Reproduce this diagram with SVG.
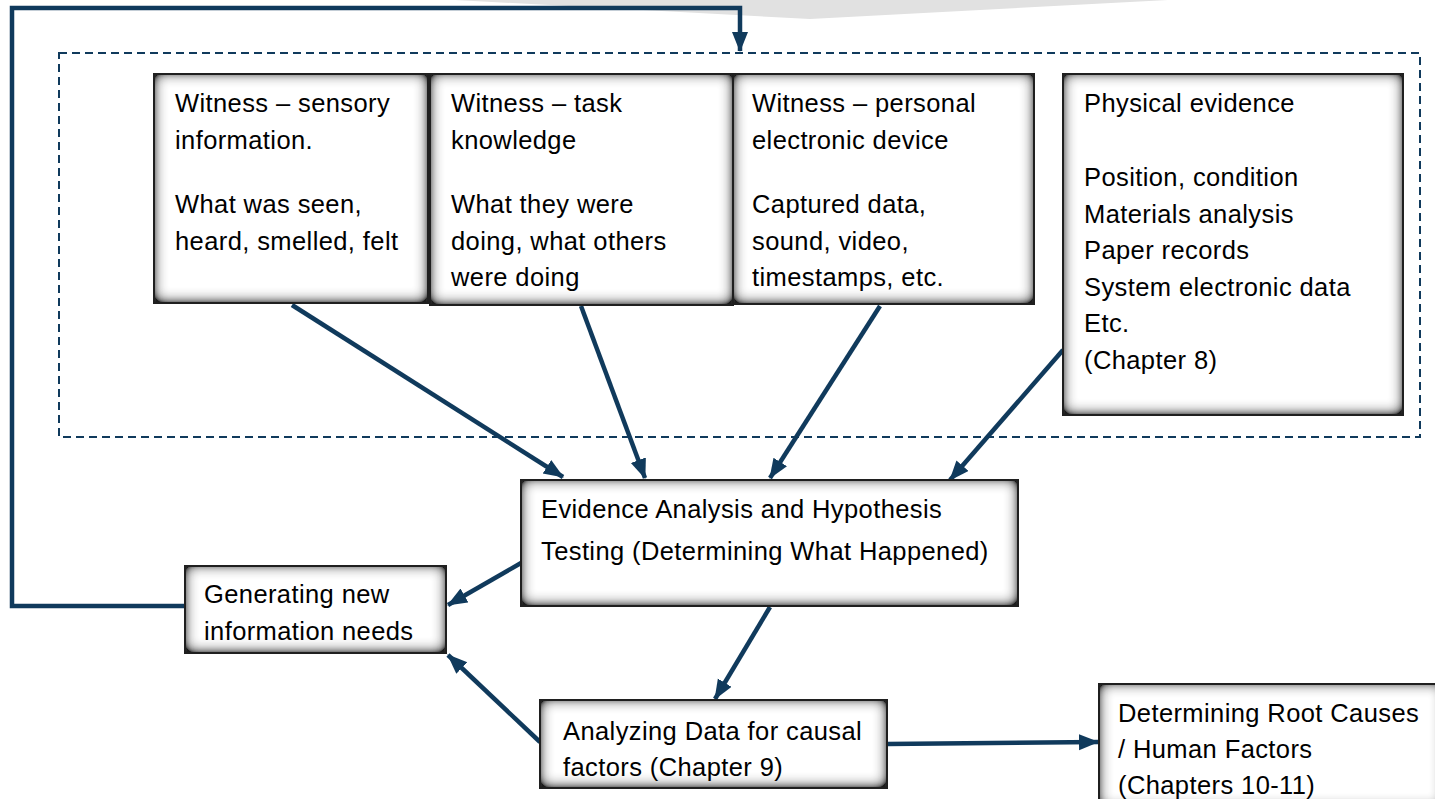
<svg xmlns="http://www.w3.org/2000/svg" width="1435" height="799" viewBox="0 0 1435 799">
  <style>
    .box { fill: #ffffff; filter: url(#inset); }
    .edge { fill: none; stroke: #1f1f1f; stroke-width: 2; }
    .lbl { font-family: "Liberation Sans", Arial, sans-serif; font-size: 25.5px; letter-spacing: 0.4px; fill: #000000; }
    .conn { fill: none; stroke: #103a5c; stroke-width: 4.5; }
    .arrow { marker-end: url(#head); }
  </style>
  <defs>
    <!-- soft grey inner glow along each box edge, a little heavier at the bottom -->
    <filter id="inset" x="-40%" y="-60%" width="180%" height="220%">
      <feFlood flood-color="#202020" flood-opacity="1" result="flood"/>
      <feComposite in="flood" in2="SourceAlpha" operator="out" result="frame"/>
      <feGaussianBlur in="frame" stdDeviation="7" result="blur"/>
      <feOffset in="blur" dx="0" dy="-1.5" result="off"/>
      <feComponentTransfer in="off" result="boost">
        <feFuncA type="linear" slope="1.7" intercept="0"/>
      </feComponentTransfer>
      <feComposite in="boost" in2="SourceAlpha" operator="in" result="shadow"/>
      <feMerge>
        <feMergeNode in="SourceGraphic"/>
        <feMergeNode in="shadow"/>
      </feMerge>
    </filter>
    <marker id="head" markerUnits="userSpaceOnUse" markerWidth="22" markerHeight="18" refX="19" refY="8" orient="auto">
      <path d="M0,0 L20,8 L0,16 Z" fill="#103a5c"/>
    </marker>
  </defs>

  <rect width="1435" height="799" fill="#ffffff"/>

  <!-- grey band at the top edge -->
  <polygon points="455,0 810,19 1168,0" fill="#e1e1e1"/>

  <!-- dashed evidence-collection frame -->
  <rect x="59" y="53" width="1361" height="384" fill="none" stroke="#103a5c" stroke-width="2" stroke-dasharray="8,5"/>

  <g id="connectors">
    <path class="conn arrow" d="M185,606 H12 V8 H740 V51"/>
    <path class="conn arrow" d="M292,305 L563,477"/>
    <path class="conn arrow" d="M581,306 L645,478"/>
    <path class="conn arrow" d="M880,306 L770,478"/>
    <path class="conn arrow" d="M1063,350 L950,480"/>
    <path class="conn arrow" d="M521,563 L448,605"/>
    <path class="conn arrow" d="M770,607 L715,699"/>
    <path class="conn arrow" d="M540,742 L448,655"/>
    <path class="conn arrow" d="M887,744 L1098,742"/>
  </g>

  <g id="witness-sensory">
    <rect class="box" x="154" y="74" width="274" height="229"/>
    <rect class="edge" x="154" y="74" width="274" height="229"/>
    <text class="lbl" x="175" y="112">Witness – sensory</text>
    <text class="lbl" x="175" y="149">information.</text>
    <text class="lbl" x="175" y="213">What was seen,</text>
    <text class="lbl" x="175" y="250">heard, smelled, felt</text>
  </g>

  <g id="witness-task">
    <rect class="box" x="430" y="74" width="303" height="231"/>
    <rect class="edge" x="430" y="74" width="303" height="231"/>
    <text class="lbl" x="451" y="112">Witness – task</text>
    <text class="lbl" x="451" y="149">knowledge</text>
    <text class="lbl" x="451" y="213">What they were</text>
    <text class="lbl" x="451" y="250">doing, what others</text>
    <text class="lbl" x="451" y="286">were doing</text>
  </g>

  <g id="witness-device">
    <rect class="box" x="733" y="74" width="301" height="230"/>
    <rect class="edge" x="733" y="74" width="301" height="230"/>
    <text class="lbl" x="752" y="112">Witness – personal</text>
    <text class="lbl" x="752" y="149">electronic device</text>
    <text class="lbl" x="752" y="213">Captured data,</text>
    <text class="lbl" x="752" y="250">sound, video,</text>
    <text class="lbl" x="752" y="286">timestamps, etc.</text>
  </g>

  <g id="physical-evidence">
    <rect class="box" x="1063" y="74" width="340" height="341"/>
    <rect class="edge" x="1063" y="74" width="340" height="341"/>
    <text class="lbl" x="1084" y="112">Physical evidence</text>
    <text class="lbl" x="1084" y="186">Position, condition</text>
    <text class="lbl" x="1084" y="223">Materials analysis</text>
    <text class="lbl" x="1084" y="259">Paper records</text>
    <text class="lbl" x="1084" y="296">System electronic data</text>
    <text class="lbl" x="1084" y="332">Etc.</text>
    <text class="lbl" x="1084" y="369">(Chapter 8)</text>
  </g>

  <g id="evidence-analysis">
    <rect class="box" x="521" y="480" width="497" height="126"/>
    <rect class="edge" x="521" y="480" width="497" height="126"/>
    <text class="lbl" x="541" y="518">Evidence Analysis and Hypothesis</text>
    <text class="lbl" x="541" y="560">Testing (Determining What Happened)</text>
  </g>

  <g id="new-information">
    <rect class="box" x="185" y="566" width="261" height="87"/>
    <rect class="edge" x="185" y="566" width="261" height="87"/>
    <text class="lbl" x="204" y="603">Generating new</text>
    <text class="lbl" x="204" y="640">information needs</text>
  </g>

  <g id="causal-factors">
    <rect class="box" x="540" y="700" width="347" height="88"/>
    <rect class="edge" x="540" y="700" width="347" height="88"/>
    <text class="lbl" x="563" y="740">Analyzing Data for causal</text>
    <text class="lbl" x="563" y="776">factors (Chapter 9)</text>
  </g>

  <g id="root-causes">
    <rect class="box" x="1099" y="684" width="345" height="125"/>
    <rect class="edge" x="1099" y="684" width="345" height="125"/>
    <text class="lbl" x="1118" y="722">Determining Root Causes</text>
    <text class="lbl" x="1118" y="758">/ Human Factors</text>
    <text class="lbl" x="1118" y="794">(Chapters 10-11)</text>
  </g>
</svg>
